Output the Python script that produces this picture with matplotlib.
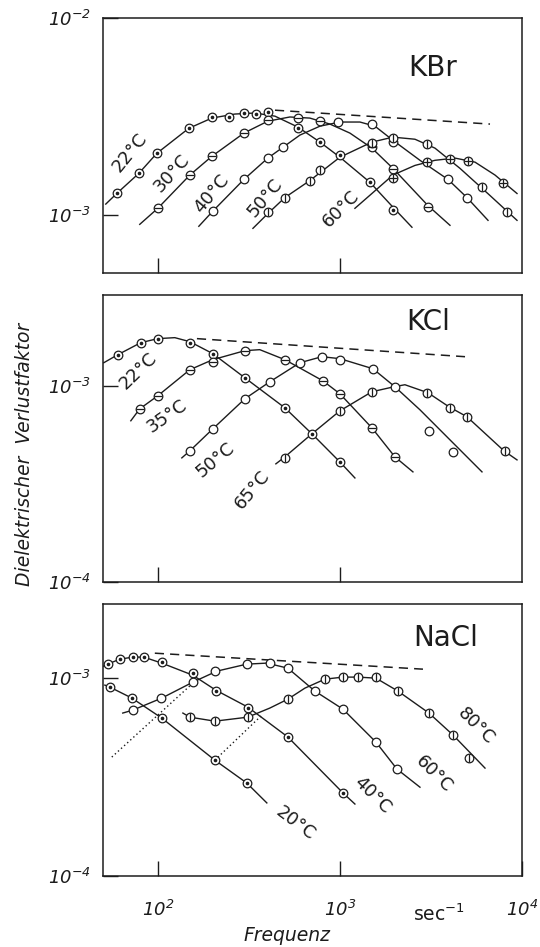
"""
Dielektrischer Verlustfaktor von KBr, KCl und NaCl gegen die Frequenz
(drei log-log-Diagramme untereinander, Werte aus der Vorlage abgelesen).
"""

import numpy as np
import matplotlib
matplotlib.use("Agg")
import matplotlib.pyplot as plt
import matplotlib.transforms as mtransforms

plt.rcParams["font.family"] = ["DejaVu Sans"]
# Achsenbeschriftungen 10^n kursiv wie in der Vorlage
plt.rcParams["mathtext.fontset"] = "custom"
plt.rcParams["mathtext.rm"] = "DejaVu Sans:italic"
plt.rcParams["mathtext.it"] = "DejaVu Sans:italic"
plt.rcParams["mathtext.sf"] = "DejaVu Sans"

INK = "#1c1c1c"
E = 1e-3  # alle Verlustfaktoren unten in Einheiten von 10^-3

# ── KBr ──────────────────────────────────────────────────────────────────────
kbr22_lf = [51.8, 59.5, 78.6, 98.7, 148, 198, 265, 341, 440, 588, 777, 1000, 1462, 1955, 2487]
kbr22_le = [1.14, 1.29, 1.63, 2.06, 2.76, 3.11, 3.26, 3.30, 3.18, 2.80, 2.35, 1.97, 1.47, 1.10, 0.87]
kbr22_pf = [59.5, 78.6, 98.7, 148, 198, 245, 297, 345, 402, 588, 777, 1000, 1462, 1955]
kbr22_pe = [1.29, 1.63, 2.06, 2.76, 3.15, 3.15, 3.30, 3.26, 3.33, 2.76, 2.35, 2.02, 1.47, 1.06]

kbr30_lf = [79.6, 100, 150, 198, 297, 402, 531, 684, 881, 1135, 1499, 1955, 3045, 4022]
kbr30_le = [0.90, 1.085, 1.60, 1.99, 2.61, 3.00, 3.15, 3.11, 2.90, 2.61, 2.19, 1.73, 1.12, 0.89]
kbr30_pf = [100, 150, 198, 297, 402, 588, 777, 1499, 1955, 3045]
kbr30_pe = [1.085, 1.60, 1.99, 2.61, 3.04, 3.11, 3.00, 2.21, 1.71, 1.10]

kbr40_lf = [168, 200.5, 297, 402, 486, 603, 777, 1000, 1288, 1557, 1955, 2752, 3922, 4986, 6506]
kbr40_le = [0.88, 1.05, 1.52, 1.95, 2.21, 2.55, 2.83, 2.97, 2.97, 2.83, 2.40, 1.90, 1.52, 1.23, 0.943]
kbr40_pf = [200.5, 297, 402, 486, 975, 1499, 1955, 3922, 4986]
kbr40_pe = [1.05, 1.52, 1.95, 2.21, 2.97, 2.90, 2.35, 1.52, 1.23]

kbr50_lf = [333, 402, 498.5, 684, 1000, 1499, 1955, 2583, 3327, 4563, 6671, 9387]
kbr50_le = [0.859, 1.02, 1.23, 1.50, 1.97, 2.35, 2.49, 2.43, 2.19, 1.73, 1.26, 0.943]
kbr50_pf = [402, 498.5, 684, 777, 1499, 1955, 3006, 6029, 8271]
kbr50_pe = [1.035, 1.23, 1.49, 1.69, 2.32, 2.46, 2.29, 1.39, 1.035]

kbr60_lf = [1209, 1499, 1955, 2583, 3327, 4285, 5518, 7106, 9387]
kbr60_le = [1.085, 1.29, 1.60, 1.79, 1.90, 1.95, 1.86, 1.60, 1.29]
kbr60_pf = [1955, 3006, 4022, 5049, 7864]
kbr60_pe = [1.54, 1.86, 1.92, 1.88, 1.45]

kbr_env_f = [440, 6671]
kbr_env_e = [3.41, 2.90]

# ── KCl ──────────────────────────────────────────────────────────────────────
kcl22_lf = [50.5, 60.3, 80.7, 100, 124, 150, 200.5, 300.6, 498.5, 702, 1000, 1209]
kcl22_le = [1.31, 1.439, 1.658, 1.738, 1.758, 1.677, 1.457, 1.098, 0.772, 0.569, 0.409, 0.339]
kcl22_pf = [60.3, 80.7, 100, 150, 200.5, 300.6, 498.5, 702, 1000]
kcl22_pe = [1.439, 1.658, 1.738, 1.658, 1.457, 1.098, 0.772, 0.569, 0.409]

kcl35_lf = [71.1, 79.6, 100, 150, 200.5, 300.6, 363, 498.5, 806, 1000, 1499, 2005, 2518]
kcl35_le = [0.663, 0.763, 0.889, 1.207, 1.358, 1.509, 1.527, 1.358, 1.060, 0.910, 0.610, 0.434, 0.364]
kcl35_pf = [79.6, 100, 150, 200.5, 300.6, 498.5, 806, 1000, 1499, 2005]
kcl35_pe = [0.763, 0.889, 1.207, 1.326, 1.509, 1.358, 1.060, 0.910, 0.610, 0.434]

kcl50_lf = [135.5, 150, 200.5, 300.6, 412.5, 603, 796, 1000, 1518, 2005, 2752, 4022, 6029]
kcl50_le = [0.429, 0.466, 0.603, 0.858, 1.048, 1.310, 1.406, 1.374, 1.221, 0.988, 0.754, 0.530, 0.364]
kcl50_pf = [150, 200.5, 300.6, 412.5, 603, 796, 1000, 1518, 2005, 3083, 4178]
kcl50_pe = [0.466, 0.603, 0.858, 1.048, 1.310, 1.406, 1.358, 1.221, 0.988, 0.589, 0.460]

kcl65_lf = [445, 498.5, 702, 1000, 1499, 1980, 2275, 3045, 3973, 4986, 7960, 9387]
kcl65_le = [0.400, 0.434, 0.569, 0.745, 0.932, 0.988, 1.012, 0.921, 0.781, 0.695, 0.466, 0.419]
kcl65_pf = [498.5, 1000, 1499, 3006, 4022, 4986, 8066]
kcl65_pe = [0.429, 0.745, 0.932, 0.921, 0.772, 0.695, 0.466]

kcl_env_f = [164, 4864]
kcl_env_e = [1.738, 1.406]

# ── NaCl ─────────────────────────────────────────────────────────────────────
nacl20_lf = [51.2, 54.5, 72.0, 105.2, 205.7, 308, 397]
nacl20_le = [0.922, 0.901, 0.793, 0.628, 0.385, 0.295, 0.234]
nacl20_pf = [54.5, 72.0, 105.2, 205.7, 308]
nacl20_pe = [0.901, 0.793, 0.628, 0.385, 0.295]

nacl40_lf = [50.5, 53.1, 61.8, 72.9, 83.8, 105.2, 155.7, 208, 312, 518, 1039, 1209]
nacl40_le = [1.150, 1.177, 1.247, 1.277, 1.277, 1.191, 1.035, 0.870, 0.714, 0.504, 0.263, 0.231]
nacl40_pf = [53.1, 61.8, 72.9, 83.8, 105.2, 155.7, 208, 312, 518, 1039]
nacl40_pe = [1.177, 1.247, 1.277, 1.277, 1.204, 1.060, 0.860, 0.706, 0.504, 0.263]

nacl60_lf = [64.2, 72.9, 105.2, 155.7, 211, 308, 397, 518, 729, 1039, 1577, 2057, 2752]
nacl60_le = [0.666, 0.689, 0.793, 0.954, 1.085, 1.177, 1.191, 1.123, 0.860, 0.697, 0.475, 0.347, 0.281]
nacl60_pf = [72.9, 103.9, 155.7, 205.7, 308, 412.5, 518, 729, 1039, 1577, 2057]
nacl60_pe = [0.689, 0.793, 0.954, 1.085, 1.177, 1.191, 1.123, 0.860, 0.697, 0.475, 0.347]

nacl80_lf = [137.3, 150, 205.7, 312, 412.5, 518, 642, 827, 1039, 1256, 1577, 2083, 3083, 4178, 6263]
nacl80_le = [0.666, 0.635, 0.606, 0.635, 0.706, 0.783, 0.890, 0.988, 1.012, 1.012, 1.0, 0.860, 0.666, 0.516, 0.351]
nacl80_pf = [150, 205.7, 312, 518, 827, 1039, 1256, 1577, 2083, 3083, 4178, 5113]
nacl80_pe = [0.635, 0.606, 0.635, 0.783, 0.988, 1.012, 1.012, 1.012, 0.860, 0.666, 0.516, 0.394]

nacl_dot1_f = [55.9, 155.7]
nacl_dot1_e = [0.399, 0.943]
nacl_dot2_f = [205.7, 373]
nacl_dot2_e = [0.385, 0.650]

nacl_env_f = [96.3, 2858]
nacl_env_e = [1.337, 1.110]


def kurve(ax, lf, le, pf, pe, inner=None):
    ax.plot(lf, np.array(le) * E, color=INK, lw=1.0, zorder=2)
    ax.plot(pf, np.array(pe) * E, ls="none", marker="o", ms=6.2, mfc="white",
            mec=INK, mew=0.9, zorder=3)
    if inner == ".":
        ax.plot(pf, np.array(pe) * E, ls="none", marker="o", ms=1.6, color=INK, zorder=4)
    elif inner:
        ax.plot(pf, np.array(pe) * E, ls="none", marker=inner, ms=5.5, mew=0.9,
                color=INK, zorder=4)


def label(ax, f, e, txt, rot):
    ax.text(f, e, txt, rotation=rot, rotation_mode="anchor", ha="center", va="center",
            fontsize=13, color=INK, zorder=5)


fig = plt.figure(figsize=(5.40, 9.47), dpi=100)
ax1 = fig.add_axes([0.1907, 0.7117, 0.776, 0.2693])
ax2 = fig.add_axes([0.1907, 0.3854, 0.776, 0.3031])
ax3 = fig.add_axes([0.1907, 0.0750, 0.776, 0.2872])

achsen = [
    (ax1, (5.1e-4, 1e-2), [1e-3, 1e-2], [r"$10^{-3}$", r"$10^{-2}$"]),
    (ax2, (1e-4, 2.9e-3), [1e-4, 1e-3], [r"$10^{-4}$", r"$10^{-3}$"]),
    (ax3, (1e-4, 2.37e-3), [1e-4, 1e-3], [r"$10^{-4}$", r"$10^{-3}$"]),
]
for ax, ylim, yt, ytl in achsen:
    ax.set_xscale("log")
    ax.set_yscale("log")
    ax.set_xlim(50, 1e4)
    ax.set_ylim(*ylim)
    ax.set_xticks([1e2, 1e3])
    ax.set_xticklabels([])
    ax.set_yticks(yt)
    ax.set_yticklabels(ytl)
    ax.minorticks_off()
    ax.tick_params(direction="in", length=11, width=1.0, pad=9, labelsize=13, colors=INK)
    for s in ax.spines.values():
        s.set_linewidth(1.1)
        s.set_color(INK)

# ── 1. KBr ───────────────────────────────────────────────────────────────────
kurve(ax1, kbr22_lf, kbr22_le, kbr22_pf, kbr22_pe, ".")
kurve(ax1, kbr30_lf, kbr30_le, kbr30_pf, kbr30_pe, "_")
kurve(ax1, kbr40_lf, kbr40_le, kbr40_pf, kbr40_pe)
kurve(ax1, kbr50_lf, kbr50_le, kbr50_pf, kbr50_pe, "|")
kurve(ax1, kbr60_lf, kbr60_le, kbr60_pf, kbr60_pe, "+")
ax1.plot(kbr_env_f, np.array(kbr_env_e) * E, color=INK, lw=1.1, ls=(0, (6, 4)))
label(ax1, 70.2, 2.09e-3, "22°C", 51)
label(ax1, 119, 1.63e-3, "30°C", 48)
label(ax1, 198, 1.28e-3, "40°C", 50)
label(ax1, 387, 1.23e-3, "50°C", 50)
label(ax1, 1012, 1.085e-3, "60°C", 45)
ax1.text(3243, 5.57e-3, "KBr", ha="center", va="center", fontsize=20, color=INK)

# ── 2. KCl ───────────────────────────────────────────────────────────────────
kurve(ax2, kcl22_lf, kcl22_le, kcl22_pf, kcl22_pe, ".")
kurve(ax2, kcl35_lf, kcl35_le, kcl35_pf, kcl35_pe, "_")
kurve(ax2, kcl50_lf, kcl50_le, kcl50_pf, kcl50_pe)
kurve(ax2, kcl65_lf, kcl65_le, kcl65_pf, kcl65_pe, "|")
ax2.plot(kcl_env_f, np.array(kcl_env_e) * E, color=INK, lw=1.1, ls=(0, (6, 4)))
label(ax2, 77.6, 1.19e-3, "22°C", 44)
label(ax2, 112, 0.703e-3, "35°C", 35)
label(ax2, 206, 0.419e-3, "50°C", 40)
label(ax2, 328, 0.294e-3, "65°C", 50)
ax2.text(3045, 2.12e-3, "KCl", ha="center", va="center", fontsize=20, color=INK)

# ── 3. NaCl ──────────────────────────────────────────────────────────────────
kurve(ax3, nacl20_lf, nacl20_le, nacl20_pf, nacl20_pe, ".")
kurve(ax3, nacl40_lf, nacl40_le, nacl40_pf, nacl40_pe, ".")
kurve(ax3, nacl60_lf, nacl60_le, nacl60_pf, nacl60_pe)
kurve(ax3, nacl80_lf, nacl80_le, nacl80_pf, nacl80_pe, "|")
ax3.plot(nacl_dot1_f, np.array(nacl_dot1_e) * E, color=INK, lw=1.0, ls=(0, (1, 2)))
ax3.plot(nacl_dot2_f, np.array(nacl_dot2_e) * E, color=INK, lw=1.0, ls=(0, (1, 2)))
ax3.plot(nacl_env_f, np.array(nacl_env_e) * E, color=INK, lw=1.1, ls=(0, (6, 4)))
label(ax3, 566, 0.185e-3, "20°C", -37)
label(ax3, 1499, 0.256e-3, "40°C", -45)
label(ax3, 3286, 0.327e-3, "60°C", -45)
label(ax3, 5586, 0.572e-3, "80°C", -45)
ax3.text(3818, 1.59e-3, "NaCl", ha="center", va="center", fontsize=20, color=INK)

ax3.set_xticks([1e2, 1e3, 1e4])
ax3.set_xticklabels([r"$10^{2}$", r"$10^{3}$", r"$10^{4}$"])
ax3.tick_params(axis="x", pad=17)
ax3.minorticks_off()
trans = mtransforms.blended_transform_factory(ax3.transData, ax3.transAxes)
ax3.text(3500, -0.14, r"sec$^{\mathsf{-1}}$", transform=trans, ha="center", va="center",
         fontsize=13.5, color=INK)

fig.text(0.046, 0.52, "Dielektrischer  Verlustfaktor", rotation=90, style="italic",
         ha="center", va="center", fontsize=13.5, color=INK)
fig.text(0.531, 0.012, "Frequenz", style="italic", ha="center", va="center",
         fontsize=13.5, color=INK)

fig.savefig("out.png", dpi=100, facecolor="white")
